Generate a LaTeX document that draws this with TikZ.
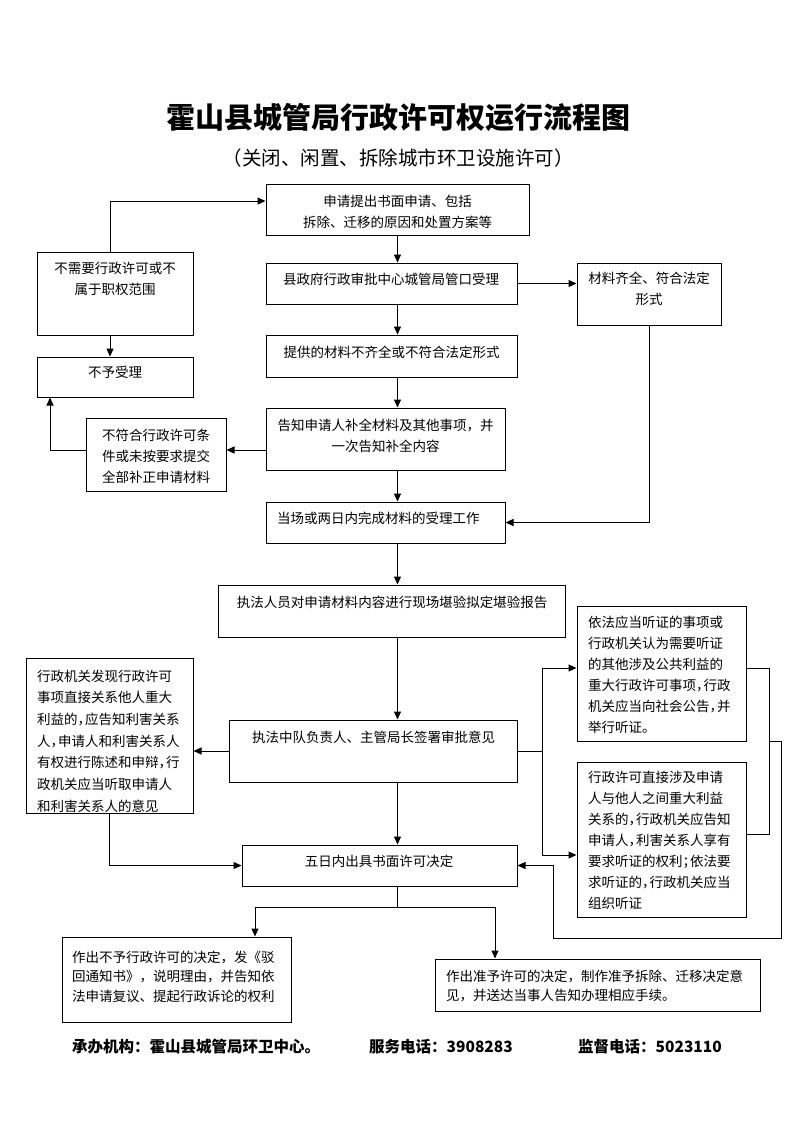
\documentclass[tikz,border=0pt]{standalone}
\usepackage{fontspec}
\setmainfont{Noto Sans CJK SC}
\usetikzlibrary{arrows.meta}
\newcommand{\hcm}{\hbox to 0.55em{，\hss}}
\newcommand{\hsc}{\hbox to 0.55em{；\hss}}
\begin{document}
\begin{tikzpicture}[x=1pt,y=-1pt,
  box/.style={draw,line width=1pt,inner sep=0pt,fill=none},
  txt/.style={inner sep=0pt,font={\fontsize{13.5}{21}\selectfont},align=center},
  ltxt/.style={inner sep=0pt,font={\fontsize{13.5}{21}\selectfont},align=left,anchor=west},
  ln/.style={line width=1pt},
  arr/.style={line width=1pt,-{Triangle[length=8pt,width=7pt]}},
  foot/.style={inner sep=0pt,anchor=west,font={\fontsize{15.5}{18}\selectfont\bfseries}}]
\useasboundingbox (0,0) rectangle (793,1122);
\fill[white] (0,0) rectangle (793,1122);

% title
\node[inner sep=0pt,font={\fontsize{29}{32}\selectfont\bfseries}] (title) at (398,118) {霍山县城管局行政许可权运行流程图};
\node[inner sep=0pt,font={\fontsize{19.5}{22}\selectfont}] (subtitle) at (398,158) {（关闭、闲置、拆除城市环卫设施许可）};

% boxes
\node[box,minimum width=263pt,minimum height=51pt] (b1) at (397.5,209.5) {};
\node[box,minimum width=251pt,minimum height=41pt] (b2) at (391.5,283.5) {};
\node[box,minimum width=251pt,minimum height=42pt] (b3) at (391.5,356) {};
\node[box,minimum width=156pt,minimum height=83pt] (n1) at (115,293.5) {};
\node[box,minimum width=156pt,minimum height=40pt] (n2) at (115,377) {};
\node[box,minimum width=144pt,minimum height=62pt] (m1) at (649,294) {};
\node[box,minimum width=239pt,minimum height=62pt] (b4) at (385.5,439) {};
\node[box,minimum width=140pt,minimum height=73pt] (n3) at (156,454.5) {};
\node[box,minimum width=239pt,minimum height=41pt] (b5) at (385.5,522.5) {};
\node[box,minimum width=347pt,minimum height=52pt] (b6) at (391.5,611) {};
\node[box,minimum width=288pt,minimum height=62pt] (b7) at (373,751) {};
\node[box,minimum width=167pt,minimum height=155pt] (L1) at (109.5,735.5) {};
\node[box,minimum width=275pt,minimum height=41pt] (b8) at (379.5,865.5) {};
\node[box,minimum width=169pt,minimum height=135pt] (R1) at (661.5,673.5) {};
\node[box,minimum width=169pt,minimum height=155pt] (R2) at (661.5,839.5) {};
\node[box,minimum width=229pt,minimum height=85pt] (D1) at (176.5,979.5) {};
\node[box,minimum width=325pt,minimum height=52pt] (D2) at (597.5,985) {};

% texts
\node[txt] (t1) at (397.5,211.5) {申请提出书面申请、包括\\拆除、迁移的原因和处置方案等};
\node[txt] (t2) at (391,279) {县政府行政审批中心城管局管口受理};
\node[txt] (t3) at (391.5,352) {提供的材料不齐全或不符合法定形式};
\node[txt] (t4) at (115,278.5) {不需要行政许可或不\\属于职权范围};
\node[txt] (t5) at (115,372) {不予受理};
\node[txt] (t6) at (649,288.5) {材料齐全、符合法定\\形式};
\node[txt] (t7) at (385.5,435.5) {告知申请人补全材料及其他事项，并\\一次告知补全内容};
\node[txt] (t8) at (156,456) {不符合行政许可条\\件或未按要求提交\\全部补正申请材料};
\node[ltxt] (t9) at (277,518) {当场或两日内完成材料的受理工作};
\node[txt] (t10) at (392,602) {执法人员对申请材料内容进行现场堪验拟定堪验报告};
\node[txt] (t11) at (373.5,737) {执法中队负责人、主管局长签署审批意见};
\node[txt] (t12) at (379,861) {五日内出具书面许可决定};
\node[ltxt,font={\fontsize{13.5}{21.7}\selectfont}] (t13) at (37,741) {行政机关发现行政许可\\事项直接关系他人重大\\利益的\hcm 应告知利害关系\\人\hcm 申请人和利害关系人\\有权进行陈述和申辩\hcm 行\\政机关应当听取申请人\\和利害关系人的意见};
\node[ltxt] (t14) at (588,674.5) {依法应当听证的事项或\\行政机关认为需要听证\\的其他涉及公共利益的\\重大行政许可事项\hcm 行政\\机关应当向社会公告\hcm 并\\举行听证。};
\node[ltxt] (t15) at (588,840) {行政许可直接涉及申请\\人与他人之间重大利益\\关系的\hcm 行政机关应告知\\申请人\hcm 利害关系人享有\\要求听证的权利\hsc 依法要\\求听证的\hcm 行政机关应当\\组织听证};
\node[ltxt,font={\fontsize{13.5}{19.5}\selectfont}] (t16) at (72,976.5) {作出不予行政许可的决定，发《驳\\回通知书》，说明理由，并告知依\\法申请复议、提起行政诉论的权利};
\node[ltxt,font={\fontsize{13.5}{19}\selectfont}] (t17) at (446,985.5) {作出准予许可的决定，制作准予拆除、迁移决定意\\见，并送达当事人告知办理相应手续。};

% footer
\node[foot] (f1) at (72,1047) {承办机构：霍山县城管局环卫中心。};
\node[foot] (f2) at (369,1047) {服务电话：3908283};
\node[foot] (f3) at (578,1047) {监督电话：5023110};

% connectors
\coordinate (ax) at (397.5,0);
\draw[arr] (b1.south) -- (b1.south |- b2.north);
\draw[arr] (b2.south -| ax) -- (b3.north -| ax);
\draw[arr] (b3.south -| ax) -- (b4.north -| ax);
\draw[arr] (b4.south -| ax) -- (b5.north -| ax);
\draw[arr] (b5.south -| ax) -- (b6.north -| ax);
\draw[arr] (b6.south -| ax) -- (b7.north -| ax);
\draw[arr] (b7.south -| ax) -- (b8.north -| ax);

\draw[arr] ([xshift=-5pt]n1.north) |- ([yshift=8.5pt]b1.west);
\draw[arr] ([xshift=-5pt]n1.south) -- ([xshift=-5pt]n2.north);
\draw[arr] (b2.east) -- (b2.east -| m1.west);
\draw[arr] (m1.south) |- (b5.east);
\draw[arr] ([yshift=-11pt]b4.west) -- ([yshift=-11pt]b4.west -| n3.east);
\draw[arr] ([yshift=4.5pt]n3.west) -| ([xshift=-65pt]n2.south);

\draw[arr] (b7.west) -- (b7.west -| L1.east);
\draw[arr] (L1.south) |- (b8.west);

\coordinate (sp) at (542,751);
\draw[ln] (b7.east) -- (sp);
\draw[arr] (sp) |- ([yshift=5.5pt]R1.west);
\draw[arr] (sp) |- ([yshift=-15.5pt]R2.west);
\draw[ln] ([yshift=5.5pt]R1.east) -- ++(23,0) |- ([yshift=5.5pt]R2.east);
\coordinate (rj) at (769,741);
\draw[arr] (rj) -| (781,938) -| (553,865.5) -- (b8.east);

\coordinate (bj) at (397.5,907);
\draw[ln] (b8.south -| bj) -- (bj);
\draw[arr] (bj) -| ([xshift=78.5pt]D1.north);
\draw[arr] (bj) -| ([xshift=-102.5pt]D2.north);
\end{tikzpicture}
\end{document}
